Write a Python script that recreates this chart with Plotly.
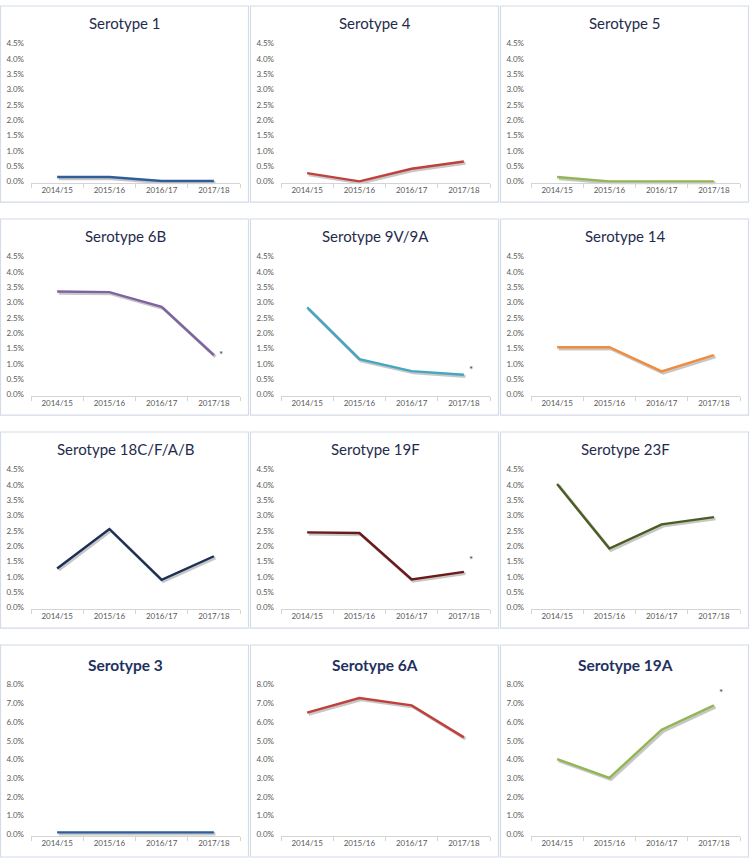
import plotly.graph_objects as go

categories = ["2014/15", "2015/16", "2016/17", "2017/18"]

titles = ["Serotype 1", "Serotype 4", "Serotype 5",
          "Serotype 6B", "Serotype 9V/9A", "Serotype 14",
          "Serotype 18C/F/A/B", "Serotype 19F", "Serotype 23F",
          "Serotype 3", "Serotype 6A", "Serotype 19A"]

s1 = [0.14, 0.14, 0.01, 0.01]
s4 = [0.27, 0.00, 0.41, 0.65]
s5 = [0.14, 0.00, 0.00, 0.00]
s6B = [3.36, 3.34, 2.86, 1.28]
s9V = [2.84, 1.15, 0.76, 0.64]
s14 = [1.54, 1.54, 0.75, 1.28]
s18 = [1.27, 2.56, 0.90, 1.67]
s19F = [2.45, 2.43, 0.91, 1.16]
s23F = [4.03, 1.92, 2.71, 2.95]
s3 = [0.10, 0.10, 0.10, 0.10]
s6A = [6.50, 7.28, 6.89, 5.18]
s19A = [4.02, 3.01, 5.59, 6.89]

series = [s1, s4, s5, s6B, s9V, s14, s18, s19F, s23F, s3, s6A, s19A]

colors = ["#2f5d9a", "#c0413c", "#93b553",
          "#7f62a0", "#45a6c2", "#f28c3c",
          "#1c2f55", "#6b1a1a", "#4a5e22",
          "#2f5d9a", "#c0413c", "#93b553"]

# asterisk markers: panel index -> value level
asterisks = {3: 1.32, 4: 0.83, 7: 1.58, 11: 7.6}

W, H = 750, 861
def fx(px):
    return px / W
def fy(py):
    return 1 - py / H

fig = go.Figure()
layout = dict(width=W, height=H, margin=dict(l=0, r=0, t=0, b=0),
              paper_bgcolor="white", plot_bgcolor="rgba(0,0,0,0)",
              showlegend=False, shapes=[], annotations=[])

col_off = [0, 250, 500]
row_off = [0, 215, 430, 645]
n = 12
for i in range(n):
    r, c = divmod(i, 3)
    P = col_off[c]
    T = row_off[r]
    if r < 3:
        ymax, dtick = 4.5, 0.5
        top, zero = T + 39, T + 178
        title_y = T + 18
        panel_bottom = T + 199
    else:
        ymax, dtick = 8.0, 1.0
        top, zero = T + 41, T + 192
        title_y = T + 21
        panel_bottom = 860
    ppu = (zero - top) / ymax
    ymin = -1.5 / ppu
    bottom = zero + 1.5
    x0, x1 = P + 31, P + 240

    sid = i + 1
    mid = i + 1 + n
    sh = 1.6
    layout["xaxis%d" % sid] = dict(domain=[fx(x0 + sh), fx(x1 + sh)], anchor="y%d" % sid,
                                   range=[-0.5, 3.5], visible=False, type="category",
                                   categoryorder="array", categoryarray=categories)
    layout["yaxis%d" % sid] = dict(domain=[fy(bottom + sh), fy(top + sh)], anchor="x%d" % sid,
                                   range=[ymin, ymax], visible=False)
    layout["xaxis%d" % mid] = dict(domain=[fx(x0), fx(x1)], anchor="y%d" % mid,
                                   range=[-0.5, 3.5], type="category",
                                   categoryorder="array", categoryarray=categories,
                                   showline=True, linecolor="#d4d4d4", linewidth=1,
                                   showgrid=False, zeroline=False,
                                   ticks="outside", tickson="boundaries", ticklen=4,
                                   tickcolor="#d4d4d4",
                                   tickfont=dict(family="Lato", size=8, color="#595959"))
    layout["yaxis%d" % mid] = dict(domain=[fy(bottom), fy(top)], anchor="x%d" % mid,
                                   range=[ymin, ymax], tick0=0, dtick=dtick,
                                   tickformat=".1f", ticksuffix="%",
                                   showline=False, showgrid=False, zeroline=False,
                                   ticklabelstandoff=6,
                                   tickfont=dict(family="Lato", size=8, color="#595959"))

    fig.add_trace(go.Scatter(x=categories, y=series[i], mode="lines",
                             line=dict(color="rgba(0,0,0,0.22)", width=3.2),
                             xaxis="x%d" % sid, yaxis="y%d" % sid, hoverinfo="skip"))
    fig.add_trace(go.Scatter(x=categories, y=series[i], mode="lines",
                             line=dict(color=colors[i], width=2.4),
                             xaxis="x%d" % mid, yaxis="y%d" % mid))

    layout["shapes"].append(dict(type="rect", xref="paper", yref="paper",
                                 x0=fx(P + 0.5), x1=fx(P + 248.5),
                                 y0=fy(panel_bottom), y1=fy(T + 1),
                                 line=dict(color="#d3dce8", width=1.2)))
    if r < 3:
        tfont = dict(family="Lato", size=15, color="#1f2b4d")
        ttext = titles[i]
    else:
        tfont = dict(family="Lato", size=15.5, color="#1f3160")
        ttext = "<b>%s</b>" % titles[i]
    layout["annotations"].append(dict(text=ttext, xref="paper", yref="paper",
                                      x=fx(P + 125), y=fy(title_y), showarrow=False,
                                      xanchor="center", yanchor="middle", font=tfont))
    if i in asterisks:
        layout["annotations"].append(dict(text="*", xref="x%d" % mid, yref="y%d" % mid,
                                          x=3.13, y=asterisks[i], showarrow=False,
                                          font=dict(family="Lato", size=10, color="#404040")))

fig.update_layout(**layout)
fig.write_html("out.html",
               config={"displayModeBar": False},
               post_script=("document.documentElement.style.margin='0';"
                            "document.body.style.margin='0';document.body.style.padding='0';"
                            "document.body.style.overflow='hidden';"
                            "var d=document.getElementsByClassName('plotly-graph-div')[0];"
                            "d.style.position='fixed';d.style.top='0px';d.style.left='0px';"
                            "window.scrollTo(0,0);"))
